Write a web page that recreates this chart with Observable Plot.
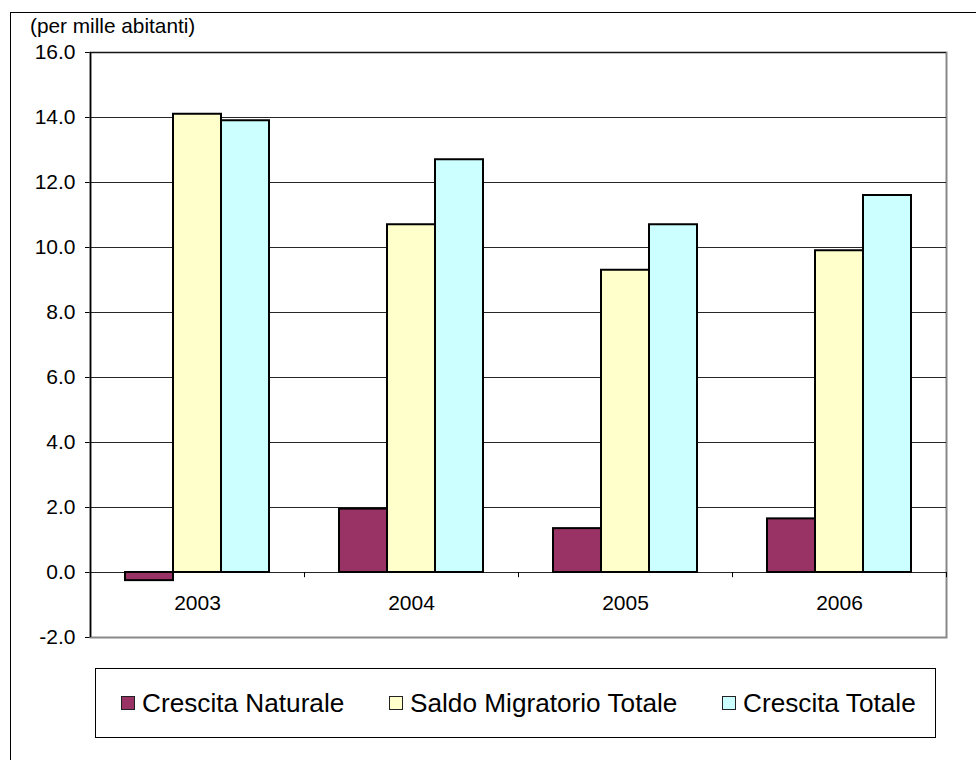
<!DOCTYPE html>
<html>
<head>
<meta charset="utf-8">
<script src="https://cdn.jsdelivr.net/npm/d3@7"></script>
<script src="https://cdn.jsdelivr.net/npm/@observablehq/plot@0.6"></script>
<style>
  html, body { margin: 0; padding: 0; background: #fff; }
  #wrap { position: relative; width: 976px; height: 760px; overflow: hidden; background: #fff;
          font-family: "Liberation Sans", Arial, sans-serif; color: #000; }
  #outer { position: absolute; left: 10px; top: 12px; width: 1000px; height: 800px; border: 1px solid #000; }
  #title { position: absolute; left: 30px; top: 16px; font-size: 20.8px; line-height: 20.8px; white-space: nowrap; }
  #chart { position: absolute; left: 0; top: 0; }
  #legend { position: absolute; left: 95px; top: 668px; width: 839px; height: 68px; border: 1px solid #000; background: #fff; }
  .item { position: absolute; top: 0; height: 68px; display: flex; align-items: center; font-size: 26.2px; white-space: nowrap; }
  .sw { width: 12px; height: 12px; border: 1.5px solid #222; margin-right: 7px; }
</style>
</head>
<body>
<div id="wrap">
  <div id="outer"></div>
  <div id="chart"></div>
  <div id="title">(per mille abitanti)</div>
  <div id="legend"></div>
</div>
<script>
// ---- data ----
const years = ["2003", "2004", "2005", "2006"];
const crescitaNaturale = [-0.25, 1.95, 1.35, 1.65];
const saldoMigratorio = [14.1, 10.7, 9.3, 9.9];
const crescitaTotale = [13.9, 12.7, 10.7, 11.6];
const seriesNames = ["Crescita Naturale", "Saldo Migratorio Totale", "Crescita Totale"];
const seriesColors = ["#993366", "#FFFFCC", "#CCFFFF"];
const yTicks = [-2, 0, 2, 4, 6, 8, 10, 12, 14, 16];

// ---- layout ----
const width = 976, height = 660;
const marginLeft = 90, marginRight = 30, marginTop = 52, marginBottom = 23;
const step = (width - marginLeft - marginRight) / years.length;
const barW = 48;
const groupPad = (step - 3 * barW) / 2;

const rows = years.map((y, i) => ({year: y, cn: crescitaNaturale[i], smt: saldoMigratorio[i], ct: crescitaTotale[i]}));

const barOpts = (key, k) => ({
  x: "year", y: key, fill: seriesColors[k], stroke: "#000", strokeWidth: 2,
  insetLeft: groupPad + k * barW, insetRight: step - groupPad - (k + 1) * barW
});

const chart = Plot.plot({
  width, height, marginLeft, marginRight, marginTop, marginBottom,
  style: {fontFamily: "\"Liberation Sans\", Arial, sans-serif", fontSize: "21px", color: "#000", background: "transparent"},
  x: {type: "band", domain: years, padding: 0, axis: null},
  y: {domain: [-2, 16], ticks: yTicks, tickFormat: d => d.toFixed(1), tickSize: 5, tickPadding: 10, label: null},
  marks: [
    Plot.frame({stroke: "#888", strokeWidth: 2}),
    Plot.ruleY(yTicks.filter(v => v > -2), {stroke: "#000", strokeWidth: 1, strokeOpacity: 0.85}),
    Plot.ruleX(years.slice(0, 1), {x: d => d, dx: -step / 2, stroke: "#000", strokeWidth: 1.5}),
    Plot.ruleX(years.slice(1), {x: d => d, y1: () => 0, y2: () => -0.16, dx: -step / 2, stroke: "#000"}),
    Plot.ruleX(years.slice(-1), {x: d => d, y1: () => 0, y2: () => -0.16, dx: step / 2, stroke: "#000"}),
    Plot.barY(rows, barOpts("cn", 0)),
    Plot.barY(rows, barOpts("smt", 1)),
    Plot.barY(rows, barOpts("ct", 2)),
    Plot.text(years, {x: d => d, y: () => 0, dy: 31, text: d => d, fontSize: 21, fill: "#000"})
  ]
});
document.getElementById("chart").appendChild(chart);

// ---- legend ----
const legend = document.getElementById("legend");
const itemLefts = [25, 293, 626];
seriesNames.forEach((name, i) => {
  const it = document.createElement("div");
  it.className = "item";
  it.style.left = itemLefts[i] + "px";
  const sw = document.createElement("div");
  sw.className = "sw";
  sw.style.background = seriesColors[i];
  const tx = document.createElement("span");
  tx.textContent = name;
  it.appendChild(sw);
  it.appendChild(tx);
  legend.appendChild(it);
});
</script>
</body>
</html>
